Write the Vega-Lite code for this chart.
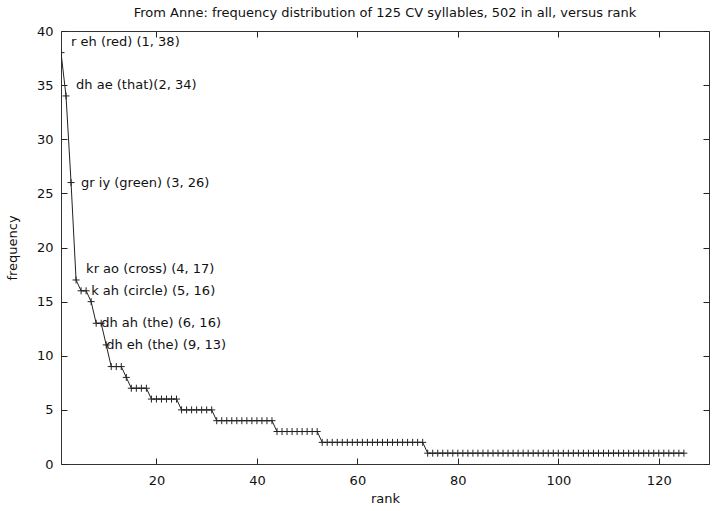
{
  "$schema": "https://vega.github.io/schema/vega-lite/v6.json",
  "width": 648,
  "height": 433,
  "autosize": {"type": "none"},
  "padding": {"left": 61, "top": 31, "right": 5, "bottom": 47},
  "background": "white",
  "config": {
    "font": "DejaVu Sans",
    "view": {"stroke": "#333", "strokeWidth": 1},
    "axis": {
      "grid": false,
      "domain": false,
      "ticks": true,
      "tickColor": "#222",
      "tickSize": 6,
      "offset": -6,
      "tickWidth": 1,
      "labelFont": "DejaVu Sans",
      "labelFontSize": 13,
      "labelColor": "#111",
      "titleFont": "DejaVu Sans",
      "titleFontSize": 13,
      "titleFontWeight": "normal",
      "titleColor": "#111"
    }
  },
  "title": {
    "text": "From Anne: frequency distribution of 125 CV syllables, 502 in all, versus rank",
    "font": "DejaVu Sans",
    "fontSize": 13,
    "fontWeight": "normal",
    "color": "#111",
    "anchor": "middle",
    "offset": 5
  },
  "datasets": {
    "freq": [
      {"rank": 1, "frequency": 38}, {"rank": 2, "frequency": 34}, {"rank": 3, "frequency": 26},
      {"rank": 4, "frequency": 17}, {"rank": 5, "frequency": 16}, {"rank": 6, "frequency": 16},
      {"rank": 7, "frequency": 15}, {"rank": 8, "frequency": 13}, {"rank": 9, "frequency": 13},
      {"rank": 10, "frequency": 11}, {"rank": 11, "frequency": 9}, {"rank": 12, "frequency": 9},
      {"rank": 13, "frequency": 9}, {"rank": 14, "frequency": 8}, {"rank": 15, "frequency": 7},
      {"rank": 16, "frequency": 7}, {"rank": 17, "frequency": 7}, {"rank": 18, "frequency": 7},
      {"rank": 19, "frequency": 6}, {"rank": 20, "frequency": 6}, {"rank": 21, "frequency": 6},
      {"rank": 22, "frequency": 6}, {"rank": 23, "frequency": 6}, {"rank": 24, "frequency": 6},
      {"rank": 25, "frequency": 5}, {"rank": 26, "frequency": 5}, {"rank": 27, "frequency": 5},
      {"rank": 28, "frequency": 5}, {"rank": 29, "frequency": 5}, {"rank": 30, "frequency": 5},
      {"rank": 31, "frequency": 5}, {"rank": 32, "frequency": 4}, {"rank": 33, "frequency": 4},
      {"rank": 34, "frequency": 4}, {"rank": 35, "frequency": 4}, {"rank": 36, "frequency": 4},
      {"rank": 37, "frequency": 4}, {"rank": 38, "frequency": 4}, {"rank": 39, "frequency": 4},
      {"rank": 40, "frequency": 4}, {"rank": 41, "frequency": 4}, {"rank": 42, "frequency": 4},
      {"rank": 43, "frequency": 4}, {"rank": 44, "frequency": 3}, {"rank": 45, "frequency": 3},
      {"rank": 46, "frequency": 3}, {"rank": 47, "frequency": 3}, {"rank": 48, "frequency": 3},
      {"rank": 49, "frequency": 3}, {"rank": 50, "frequency": 3}, {"rank": 51, "frequency": 3},
      {"rank": 52, "frequency": 3}, {"rank": 53, "frequency": 2}, {"rank": 54, "frequency": 2},
      {"rank": 55, "frequency": 2}, {"rank": 56, "frequency": 2}, {"rank": 57, "frequency": 2},
      {"rank": 58, "frequency": 2}, {"rank": 59, "frequency": 2}, {"rank": 60, "frequency": 2},
      {"rank": 61, "frequency": 2}, {"rank": 62, "frequency": 2}, {"rank": 63, "frequency": 2},
      {"rank": 64, "frequency": 2}, {"rank": 65, "frequency": 2}, {"rank": 66, "frequency": 2},
      {"rank": 67, "frequency": 2}, {"rank": 68, "frequency": 2}, {"rank": 69, "frequency": 2},
      {"rank": 70, "frequency": 2}, {"rank": 71, "frequency": 2}, {"rank": 72, "frequency": 2},
      {"rank": 73, "frequency": 2}, {"rank": 74, "frequency": 1}, {"rank": 75, "frequency": 1},
      {"rank": 76, "frequency": 1}, {"rank": 77, "frequency": 1}, {"rank": 78, "frequency": 1},
      {"rank": 79, "frequency": 1}, {"rank": 80, "frequency": 1}, {"rank": 81, "frequency": 1},
      {"rank": 82, "frequency": 1}, {"rank": 83, "frequency": 1}, {"rank": 84, "frequency": 1},
      {"rank": 85, "frequency": 1}, {"rank": 86, "frequency": 1}, {"rank": 87, "frequency": 1},
      {"rank": 88, "frequency": 1}, {"rank": 89, "frequency": 1}, {"rank": 90, "frequency": 1},
      {"rank": 91, "frequency": 1}, {"rank": 92, "frequency": 1}, {"rank": 93, "frequency": 1},
      {"rank": 94, "frequency": 1}, {"rank": 95, "frequency": 1}, {"rank": 96, "frequency": 1},
      {"rank": 97, "frequency": 1}, {"rank": 98, "frequency": 1}, {"rank": 99, "frequency": 1},
      {"rank": 100, "frequency": 1}, {"rank": 101, "frequency": 1}, {"rank": 102, "frequency": 1},
      {"rank": 103, "frequency": 1}, {"rank": 104, "frequency": 1}, {"rank": 105, "frequency": 1},
      {"rank": 106, "frequency": 1}, {"rank": 107, "frequency": 1}, {"rank": 108, "frequency": 1},
      {"rank": 109, "frequency": 1}, {"rank": 110, "frequency": 1}, {"rank": 111, "frequency": 1},
      {"rank": 112, "frequency": 1}, {"rank": 113, "frequency": 1}, {"rank": 114, "frequency": 1},
      {"rank": 115, "frequency": 1}, {"rank": 116, "frequency": 1}, {"rank": 117, "frequency": 1},
      {"rank": 118, "frequency": 1}, {"rank": 119, "frequency": 1}, {"rank": 120, "frequency": 1},
      {"rank": 121, "frequency": 1}, {"rank": 122, "frequency": 1}, {"rank": 123, "frequency": 1},
      {"rank": 124, "frequency": 1}, {"rank": 125, "frequency": 1}
    ],
    "labels": [
      {"x": 3, "y": 39, "label": "r eh (red) (1, 38)"},
      {"x": 4, "y": 35, "label": "dh ae (that)(2, 34)"},
      {"x": 5, "y": 26, "label": "gr iy (green) (3, 26)"},
      {"x": 6, "y": 18, "label": "kr ao (cross) (4, 17)"},
      {"x": 7, "y": 16, "label": "k ah (circle) (5, 16)"},
      {"x": 9, "y": 13, "label": "dh ah (the) (6, 16)"},
      {"x": 10, "y": 11, "label": "dh eh (the) (9, 13)"}
    ]
  },
  "resolve": {"axis": {"x": "independent", "y": "independent"}},
  "layer": [
    {
      "data": {"name": "freq"},
      "mark": {"type": "line", "color": "#222", "strokeWidth": 1, "clip": true},
      "encoding": {
        "x": {
          "field": "rank", "type": "quantitative",
          "scale": {"domain": [1, 130], "nice": false, "zero": false},
          "axis": {"orient": "bottom", "values": [20, 40, 60, 80, 100, 120], "title": "rank", "ticks": true, "tickSize": 6, "offset": -6, "labelPadding": 10, "titlePadding": 5}
        },
        "y": {
          "field": "frequency", "type": "quantitative",
          "scale": {"domain": [0, 40], "nice": false},
          "axis": {"orient": "left", "values": [0, 5, 10, 15, 20, 25, 30, 35, 40], "title": "frequency", "ticks": true, "tickSize": 6, "offset": -6, "labelPadding": 8, "titlePadding": 17}
        }
      }
    },
    {
      "data": {"name": "freq"},
      "mark": {"type": "point", "shape": "M-1,0H1M0,-1V1", "filled": false, "size": 49, "stroke": "#222", "strokeWidth": 1, "opacity": 1, "clip": true},
      "encoding": {
        "x": {
          "field": "rank", "type": "quantitative",
          "axis": {"orient": "top", "values": [20, 40, 60, 80, 100, 120], "labels": false, "title": null, "ticks": true, "tickSize": 6, "offset": -6}
        },
        "y": {
          "field": "frequency", "type": "quantitative",
          "axis": {"orient": "right", "values": [0, 5, 10, 15, 20, 25, 30, 35, 40], "labels": false, "title": null, "ticks": true, "tickSize": 6, "offset": -6}
        }
      }
    },
    {
      "data": {"name": "labels"},
      "mark": {"type": "text", "align": "left", "baseline": "middle", "fontSize": 13, "font": "DejaVu Sans", "color": "#111"},
      "encoding": {
        "x": {"field": "x", "type": "quantitative", "axis": null},
        "y": {"field": "y", "type": "quantitative", "axis": null},
        "text": {"field": "label"}
      }
    }
  ]
}
